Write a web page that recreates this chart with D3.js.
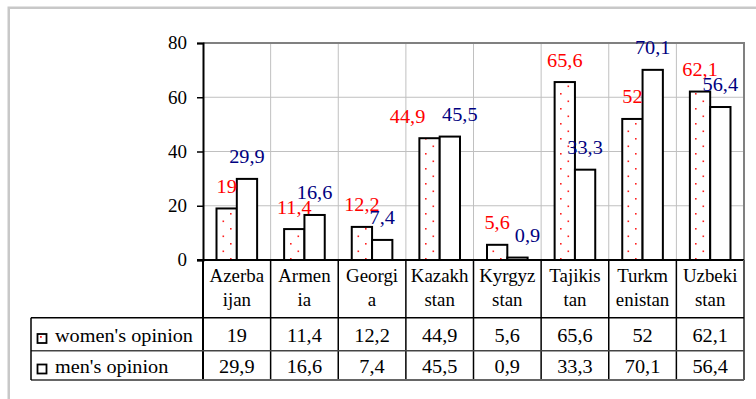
<!DOCTYPE html>
<html>
<head>
<meta charset="utf-8">
<script src="https://cdn.jsdelivr.net/npm/d3@7/dist/d3.min.js"></script>
<style>
  html, body { margin: 0; padding: 0; background: #fff; }
  svg { display: block; }
</style>
</head>
<body>
<svg id="chart" width="756" height="399"></svg>
<script>
// Country labels as they are broken over two lines under the axis
const categories = [
  ["Azerba", "ijan"], ["Armen", "ia"], ["Georgi", "a"], ["Kazakh", "stan"],
  ["Kyrgyz", "stan"], ["Tajikis", "tan"], ["Turkm", "enistan"], ["Uzbeki", "stan"]
];
const seriesNames = ["women's opinion", "men's opinion"];
const womenValues = [19, 11.4, 12.2, 44.9, 5.6, 65.6, 52, 62.1];
const menValues = [29.9, 16.6, 7.4, 45.5, 0.9, 33.3, 70.1, 56.4];
const yTicks = [0, 20, 40, 60, 80];

// horizontal nudges for a few crowded value labels
const womenLabelShift = [0, 0, 0, -22, 0, 0, 0, 0];
const menLabelShift = [0, 0, 0, 10, 10, 0, 0, 0];

const fmt = v => String(v).replace(".", ",");
const FONT = "Liberation Serif";

const svg = d3.select("#chart");

// Horizontal stretch so the serif face runs as wide as the chart's lettering:
// a sample string is measured and compared with the width it should occupy.
function widthFactor(sample, size, target) {
  const t = svg.append("text").attr("font-family", FONT).attr("font-size", size).text(sample);
  const w = t.node().getComputedTextLength();
  t.remove();
  return w > 0 ? target / w : 1;
}
function stretch(sel, k) {
  sel.each(function () {
    const w = this.getComputedTextLength();
    d3.select(this).attr("textLength", w * k).attr("lengthAdjust", "spacingAndGlyphs");
  });
}
const kTick = widthFactor("80", 18, 19);
const kValue = widthFactor("29,9", 18, 35.5);
const kCat = widthFactor("Azerbaenistan", 18, 108);
const kName = widthFactor("women's opinion", 18, 138);

// outer chart frame
svg.append("rect")
  .attr("x", 8.75).attr("y", 7.75).attr("width", 800).attr("height", 500)
  .attr("fill", "none").attr("stroke", "#c8c8c8").attr("stroke-width", 2.5);

const plot = { left: 203, right: 744, top: 43, bottom: 260 };
const table = { left: 31, catBottom: 317.7, row1Bottom: 350.7, row2Bottom: 380 };

const idx = d3.range(categories.length);
const x = d3.scaleBand().domain(idx).range([plot.left, plot.right]).paddingInner(0).paddingOuter(0);
const xs = d3.scaleBand().domain([0, 1]).range([0, x.bandwidth()]).paddingInner(0).paddingOuter(0.665);
const y = d3.scaleLinear().domain([0, 80]).range([plot.bottom, plot.top]);

// dotted fill for the women's series
const defs = svg.append("defs");
const pat = defs.append("pattern")
  .attr("id", "dots").attr("patternUnits", "userSpaceOnUse")
  .attr("width", 15).attr("height", 15).attr("x", 5).attr("y", 3);
pat.append("rect").attr("width", 15).attr("height", 15).attr("fill", "#fff");
pat.append("rect").attr("x", 0).attr("y", 0).attr("width", 1.6).attr("height", 1.6).attr("fill", "#ff2020");
pat.append("rect").attr("x", 7.5).attr("y", 7.5).attr("width", 1.6).attr("height", 1.6).attr("fill", "#ff2020");

const keyPat = defs.append("pattern")
  .attr("id", "keydots").attr("patternUnits", "userSpaceOnUse")
  .attr("width", 15).attr("height", 15).attr("x", 40).attr("y", 336);
keyPat.append("rect").attr("width", 15).attr("height", 15).attr("fill", "#fff");
keyPat.append("rect").attr("width", 1.8).attr("height", 1.8).attr("fill", "#ff2020");

// horizontal gridlines
svg.append("g").selectAll("line")
  .data(yTicks.filter(t => t > 0 && t < 80))
  .join("line")
  .attr("x1", plot.left).attr("x2", plot.right)
  .attr("y1", d => y(d)).attr("y2", d => y(d))
  .attr("stroke", "#c0c0c0").attr("stroke-width", 1);

// vertical gridlines at category boundaries (plot area)
svg.append("g").selectAll("line")
  .data(idx.slice(1))
  .join("line")
  .attr("x1", d => x(d)).attr("x2", d => x(d))
  .attr("y1", plot.top).attr("y2", plot.bottom)
  .attr("stroke", "#c0c0c0").attr("stroke-width", 1);

// plot area top/right border
svg.append("path")
  .attr("d", `M${plot.left},${plot.top}H${plot.right}V${plot.bottom}`)
  .attr("fill", "none").attr("stroke", "#808080").attr("stroke-width", 2);

// y axis
const yAxis = d3.axisLeft(y).tickValues(yTicks).tickSize(6).tickPadding(10).tickFormat(d3.format("d"));
const gy = svg.append("g").attr("transform", `translate(${plot.left},0)`).call(yAxis);
gy.attr("font-family", FONT).attr("font-size", 18);
gy.select(".domain").attr("stroke", "#000").attr("stroke-width", 2);
gy.selectAll(".tick line").attr("stroke", "#000").attr("stroke-width", 1.5);
gy.selectAll(".tick text").attr("fill", "#000").attr("font-family", FONT).attr("font-size", 18);
stretch(gy.selectAll(".tick text"), kTick);

// bars
const bars = svg.append("g");
bars.selectAll("rect.w")
  .data(womenValues)
  .join("rect").attr("class", "w")
  .attr("x", (d, i) => x(i) + xs(0))
  .attr("width", xs.bandwidth())
  .attr("y", d => y(d))
  .attr("height", d => y(0) - y(d))
  .attr("fill", "url(#dots)").attr("stroke", "#000").attr("stroke-width", 2);
bars.selectAll("rect.m")
  .data(menValues)
  .join("rect").attr("class", "m")
  .attr("x", (d, i) => x(i) + xs(1))
  .attr("width", xs.bandwidth())
  .attr("y", d => y(d))
  .attr("height", d => y(0) - y(d))
  .attr("fill", "#fff").attr("stroke", "#000").attr("stroke-width", 2);

// value labels above bars
const labels = svg.append("g");
const wl = labels.selectAll("text.w")
  .data(womenValues)
  .join("text").attr("class", "w")
  .attr("x", (d, i) => x(i) + xs(0) + xs.bandwidth() / 2 + womenLabelShift[i])
  .attr("y", d => y(d) - 15.5)
  .attr("text-anchor", "middle").attr("fill", "#ff0000")
  .attr("font-family", FONT).attr("font-size", 18)
  .text(fmt);
const ml = labels.selectAll("text.m")
  .data(menValues)
  .join("text").attr("class", "m")
  .attr("x", (d, i) => x(i) + xs(1) + xs.bandwidth() / 2 + menLabelShift[i])
  .attr("y", d => y(d) - 16)
  .attr("text-anchor", "middle").attr("fill", "#000080")
  .attr("font-family", FONT).attr("font-size", 18)
  .text(fmt);
stretch(wl, kValue);
stretch(ml, kValue);

// x axis baseline
svg.append("line")
  .attr("x1", plot.left - 6).attr("x2", plot.right)
  .attr("y1", plot.bottom).attr("y2", plot.bottom)
  .attr("stroke", "#000").attr("stroke-width", 2);

// data table: column separators
svg.append("g").selectAll("line")
  .data(idx)
  .join("line")
  .attr("x1", d => x(d)).attr("x2", d => x(d))
  .attr("y1", plot.bottom).attr("y2", table.row2Bottom)
  .attr("stroke", "#000").attr("stroke-width", d => d === 0 ? 2 : 1.5);
svg.append("line")
  .attr("x1", plot.right).attr("x2", plot.right)
  .attr("y1", plot.bottom).attr("y2", table.row2Bottom)
  .attr("stroke", "#555").attr("stroke-width", 2);

// data table: row lines
svg.append("line")
  .attr("x1", table.left).attr("x2", plot.right)
  .attr("y1", table.catBottom).attr("y2", table.catBottom)
  .attr("stroke", "#000").attr("stroke-width", 1.5);
svg.append("line")
  .attr("x1", table.left).attr("x2", plot.right)
  .attr("y1", table.row1Bottom).attr("y2", table.row1Bottom)
  .attr("stroke", "#444").attr("stroke-width", 1.5);
svg.append("line")
  .attr("x1", table.left).attr("x2", plot.right)
  .attr("y1", table.row2Bottom).attr("y2", table.row2Bottom)
  .attr("stroke", "#666").attr("stroke-width", 2);
svg.append("line")
  .attr("x1", table.left).attr("x2", table.left)
  .attr("y1", table.catBottom).attr("y2", table.row2Bottom)
  .attr("stroke", "#000").attr("stroke-width", 1.5);

// category labels, one text per line
const catG = svg.append("g");
[0, 1].forEach(line => {
  const t = catG.selectAll(`text.l${line}`)
    .data(categories)
    .join("text").attr("class", `l${line}`)
    .attr("x", (d, i) => x(i) + x.bandwidth() / 2)
    .attr("y", 281.5 + line * 24.5)
    .attr("text-anchor", "middle")
    .attr("font-family", FONT).attr("font-size", 18)
    .text(d => d[line]);
  stretch(t, kCat);
});

// table rows: legend keys, series names and values
const rows = [
  { name: seriesNames[0], values: womenValues, fill: "url(#keydots)", baseline: 341.5, mid: 334 },
  { name: seriesNames[1], values: menValues, fill: "#fff", baseline: 372.5, mid: 364.5 }
];
rows.forEach(r => {
  svg.append("rect")
    .attr("x", 37.5).attr("y", r.mid).attr("width", 9).attr("height", 9)
    .attr("fill", r.fill).attr("stroke", "#000").attr("stroke-width", 1.8);
  const nm = svg.append("text")
    .attr("x", 55).attr("y", r.baseline)
    .attr("font-family", FONT).attr("font-size", 18)
    .text(r.name);
  stretch(nm, kName);
  const vals = svg.append("g")
    .selectAll("text")
    .data(r.values)
    .join("text")
    .attr("x", (d, i) => x(i) + x.bandwidth() / 2)
    .attr("y", r.baseline)
    .attr("text-anchor", "middle")
    .attr("font-family", FONT).attr("font-size", 18)
    .text(fmt);
  stretch(vals, kValue);
});
</script>
</body>
</html>
